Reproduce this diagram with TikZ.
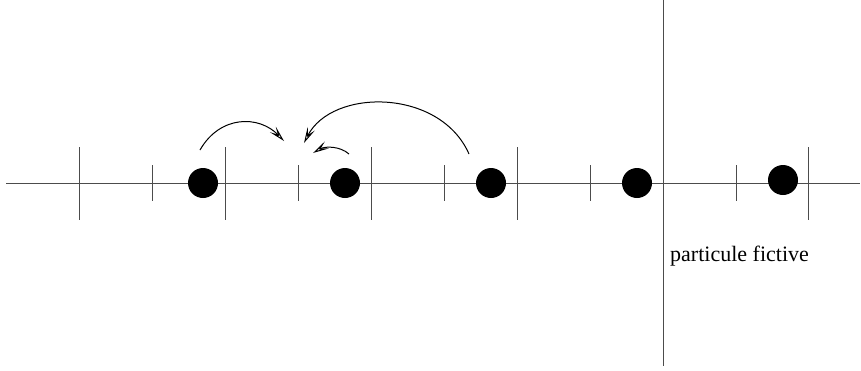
\documentclass[tikz,border=0pt]{standalone}
\usepackage{fontspec}
\setmainfont{Liberation Serif}
\usetikzlibrary{arrows.meta}
\tikzset{
  axe/.style   ={line width=1pt,black!70},
  tickL/.style ={axe},
  tickS/.style ={axe},
  ptc/.style   ={circle,fill=black,inner sep=0pt,minimum size=30pt},
  saut/.style  ={-{Stealth[open,length=16pt,width=8pt,inset=7pt]},line width=1pt},
  lbl/.style   ={font=\fontsize{22}{26}\selectfont,inner sep=0pt},
}

\begin{document}
\begin{tikzpicture}[x=1pt,y=-1pt]
  \useasboundingbox (0,0) rectangle (861,370);
  % axis and cells
  \coordinate (g) at (6,183);
  \coordinate (d) at (860,183);
  \draw[axe] (g) -- (d);
  \foreach \x in {79,225,371,517,808} \draw[tickL] (\x,147) -- (\x,220);
  \foreach \x in {152,298,444,590,736} \draw[tickS] (\x,165) -- (\x,201);
  % wall
  \coordinate (mh) at (663,0);
  \coordinate (mb) at (663,366);
  \draw[axe] (mh) -- (mb);
  % particles
  \node[ptc] (p1) at (203,183) {};
  \node[ptc] (p2) at (345,183) {};
  \node[ptc] (p3) at (491,183) {};
  \node[ptc] (p4) at (637,183) {};
  \node[ptc] (p5) at (783,180) {};
  \node[lbl,anchor=base west] (fic) at (670,261) {particule fictive};
  % jumps
  \coordinate (a1) at (200,150);
  \coordinate (b1) at (284,141);
  \coordinate (a2) at (469,154);
  \coordinate (b2) at (304,143);
  \coordinate (a3) at (349,154);
  \coordinate (b3) at (313,153);
  \draw[saut] (a1) .. controls (220,115) and (259,115) .. (b1);
  \draw[saut] (a2) .. controls (440,88) and (332,88) .. (b2);
  \draw[saut] (a3) .. controls (340,146) and (325,146) .. (b3);
\end{tikzpicture}
\end{document}
